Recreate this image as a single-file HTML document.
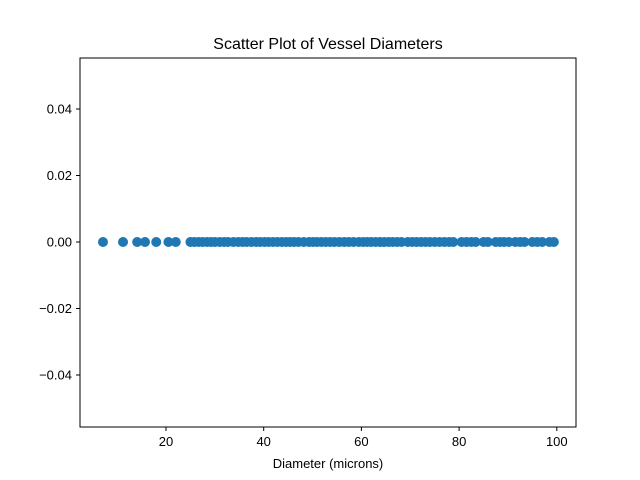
<!DOCTYPE html>
<html><head><meta charset="utf-8"><style>body{margin:0;background:#fff}svg{display:block;font-family:"Liberation Sans","DejaVu Sans",sans-serif}</style></head>
<body>
<svg id="chart" width="640" height="480" viewBox="0 0 640 480">
<rect width="640" height="480" fill="#fff"/>
<text x="328" y="49" text-anchor="middle" font-size="16">Scatter Plot of Vessel Diameters</text>
<text x="328" y="468" text-anchor="middle" font-size="13">Diameter (microns)</text>
<g id="ticks"></g>
<g id="points"></g>
<rect x="80" y="58" width="496" height="369" fill="none" stroke="#000" stroke-width="1"/>
</svg>
<script>
const diameters=[7.1,11.2,14.1,15.7,18.0,20.5,22.0,25.0,25.8,26.7,27.5,28.4,29.2,30.0,31.0,31.9,32.7,33.8,34.8,35.7,36.5,37.5,38.5,39.3,40.2,41.0,41.9,42.8,43.7,44.6,45.4,46.2,47.1,48.2,49.3,50.1,50.9,51.8,52.7,53.6,54.5,55.5,56.5,57.4,58.4,59.5,60.4,61.2,62.0,62.9,63.8,64.7,65.6,66.4,67.3,68.2,69.5,70.4,71.3,72.2,73.1,74.0,75.0,76.0,77.0,78.0,78.8,80.5,81.5,82.5,83.4,85.0,85.9,87.5,88.4,89.2,90.2,91.5,92.5,93.4,95.0,96.0,97.0,98.5,99.4];
const yValues=diameters.map(()=>0);
const xTicks=[20,40,60,80,100];
const yTicks=[0.04,0.02,0.00,-0.02,-0.04];
const yTickLabels=["0.04","0.02","0.00","\u22120.02","\u22120.04"];
const ns="http://www.w3.org/2000/svg";
const X=v=>166+(v-20)*4.885;
const Y=v=>242-v*3325;
const tg=document.getElementById('ticks'),pg=document.getElementById('points');
function mk(tag,attrs,parent){const e=document.createElementNS(ns,tag);for(const k in attrs)e.setAttribute(k,attrs[k]);parent.appendChild(e);return e;}
xTicks.forEach(t=>{
 const l=mk('line',{x1:X(t),x2:X(t),y1:427,y2:431,stroke:'#000'},tg);
 
 
 const tx=mk('text',{x:X(t),y:446,'text-anchor':'middle','font-size':'13'},tg);tx.textContent=t;
 
 
});
yTicks.forEach((t,i)=>{
 const l=mk('line',{x1:76,x2:80,y1:Y(t),y2:Y(t),stroke:'#000'},tg);
 
 
 const tx=mk('text',{x:72,y:Y(t)+4.5,'text-anchor':'end','font-size':'13'},tg);tx.textContent=yTickLabels[i];
 
 
});
diameters.forEach((d,i)=>{
 const c=mk('circle',{cx:X(d),cy:Y(yValues[i]),r:5,fill:'#1f77b4'},pg);
 
 
});
</script>
</body></html>
